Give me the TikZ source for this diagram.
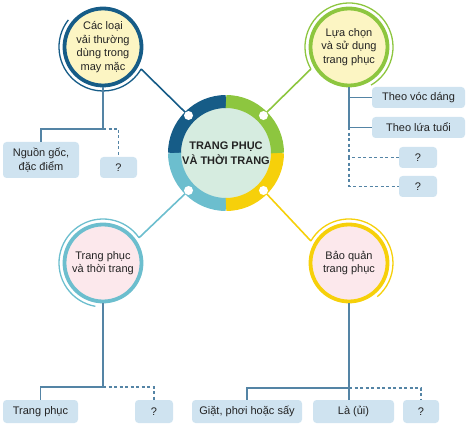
\documentclass[tikz,border=0pt]{standalone}
\usepackage{fontspec}
\setmainfont{Liberation Sans}
\usetikzlibrary{calc}
\definecolor{dblue}{RGB}{22,92,135}
\definecolor{lgreen}{RGB}{141,198,63}
\definecolor{myyellow}{RGB}{246,208,10}
\definecolor{lblue}{RGB}{108,190,206}
\definecolor{cfill}{RGB}{214,236,224}
\definecolor{yfill}{RGB}{252,245,195}
\definecolor{pfill}{RGB}{252,232,236}
\definecolor{boxfill}{RGB}{207,227,240}
\definecolor{linec}{RGB}{84,132,165}
\definecolor{txt}{RGB}{35,35,35}
\begin{document}
\begin{tikzpicture}[x=1pt,y=1pt,
  sat/.style={circle, minimum size=77pt, inner sep=0pt, line width=3.8pt, align=center, font=\fontsize{11}{13.5}\selectfont, text=txt},
  outarc/.style={line width=1.3pt},
  lbox/.style={rounded corners=3.5pt, fill=boxfill, minimum height=21pt, inner sep=0pt, align=center, font=\fontsize{11}{13.5}\selectfont, text=txt},
  tline/.style={draw=linec, line width=1.2pt},
  dline/.style={draw=linec, line width=1.2pt, dash pattern=on 3pt off 2.5pt},
  conn/.style={line width=1.6pt},
  wdot/.style={circle, fill=white, minimum size=9pt, inner sep=0pt}
]
\useasboundingbox (0,0) rectangle (469,-425);
% central circle
\node[circle, fill=cfill, minimum size=90pt, inner sep=0pt, align=center, text=txt,
  font=\fontsize{11}{15.5}\selectfont\bfseries] (c) at (226,-153) {TRANG PHỤC\\VÀ THỜI TRANG};
\draw[dblue, line width=13pt] ($(c)+(90:51.5pt)$) arc[start angle=90, end angle=180, radius=51.5pt];
\draw[lblue, line width=13pt] ($(c)+(180:51.5pt)$) arc[start angle=180, end angle=270, radius=51.5pt];
\draw[myyellow, line width=13pt] ($(c)+(270:51.5pt)$) arc[start angle=270, end angle=360, radius=51.5pt];
\draw[lgreen, line width=13pt] ($(c)+(0:51.5pt)$) arc[start angle=0, end angle=90, radius=51.5pt];
% satellites
\node[sat, draw=dblue, fill=yfill] (tl) at (103,-47) {Các loại\\vải thường\\dùng trong\\may mặc};
\node[sat, draw=lgreen, fill=yfill] (tr) at (349,-47) {Lựa chọn\\và sử dụng\\trang phục};
\node[sat, draw=lblue, fill=pfill] (bl) at (103,-263) {Trang phục\\và thời trang};
\node[sat, draw=myyellow, fill=pfill] (br) at (349,-263) {Bảo quản\\trang phục};
% outer arcs
\draw[outarc, dblue] ($(tl)+(142:44pt)$) arc[start angle=142, end angle=330, radius=44pt];
\draw[outarc, lgreen] ($(tr)+(210:44pt)$) arc[start angle=210, end angle=-60, radius=44pt];
\draw[outarc, lblue] ($(bl)+(35:44pt)$) arc[start angle=35, end angle=260, radius=44pt];
\draw[outarc, myyellow] ($(br)+(150:44pt)$) arc[start angle=150, end angle=-50, radius=44pt];
\coordinate (tlc) at ($(tl)+(330:44pt)$);
\coordinate (trc) at ($(tr)+(210:44pt)$);
\coordinate (blc) at ($(bl)+(35:44pt)$);
\coordinate (brc) at ($(br)+(150:44pt)$);
% dot positions
\coordinate (p1) at ($(c)+(135:53pt)$);
\coordinate (p2) at ($(c)+(45:53pt)$);
\coordinate (p3) at ($(c)+(225:53pt)$);
\coordinate (p4) at ($(c)+(315:53pt)$);
% connectors
\draw[conn, dblue] (tlc) -- (p1);
\draw[conn, lgreen] (trc) -- (p2);
\draw[conn, lblue] (blc) -- (p3);
\draw[conn, myyellow] (brc) -- (p4);
% dots
\node[wdot] (d1) at (p1) {};
\node[wdot] (d2) at (p2) {};
\node[wdot] (d3) at (p3) {};
\node[wdot] (d4) at (p4) {};
% top-left tree
\node[lbox, minimum width=76pt, minimum height=36pt] (n1) at (41,-160) {Nguồn gốc,\\đặc điểm};
\node[lbox, minimum width=37pt] (q1) at (118.5,-167.5) {?};
\coordinate (tlj) at (103,-129);
\draw[tline] (tl.south) -- (tlj) -| (n1.north);
\draw[dline] (tlj) -| (q1.north);
% top-right tree
\node[lbox, minimum width=93pt] (b1) at (418.5,-97.5) {Theo vóc dáng};
\node[lbox, minimum width=93pt] (b2) at (418.5,-127.5) {Theo lứa tuổi};
\node[lbox, minimum width=38pt] (b3) at (418,-157.5) {?};
\node[lbox, minimum width=38pt] (b4) at (418,-186.5) {?};
\draw[tline] (tr.south) |- (b1.west);
\draw[tline] (tr.south) |- (b2.west);
\draw[dline] (tr.south |- b2.west) |- (b3.west);
\draw[dline] (tr.south |- b3.west) |- (b4.west);
% bottom-left tree
\node[lbox, minimum width=75pt, minimum height=23pt] (t1) at (40.5,-411.5) {Trang phục};
\node[lbox, minimum width=38pt, minimum height=23pt] (q2) at (154,-411.5) {?};
\coordinate (blj) at (103,-387);
\draw[tline] (bl.south) -- (blj) -| (t1.north);
\draw[dline] (blj) -| (q2.north);
% bottom-right tree
\node[lbox, minimum width=110pt, minimum height=23pt] (g1) at (247,-411.5) {Giặt, phơi hoặc sấy};
\node[lbox, minimum width=81pt, minimum height=23pt] (l1) at (353.5,-411.5) {Là (ủi)};
\node[lbox, minimum width=36pt, minimum height=23pt] (q3) at (421,-411.5) {?};
\coordinate (brj) at (349,-388);
\draw[tline] (br.south) -- (br.south |- l1.north);
\draw[tline] (brj) -| (g1.north);
\draw[dline] (brj) -| (q3.north);
\end{tikzpicture}
\end{document}
